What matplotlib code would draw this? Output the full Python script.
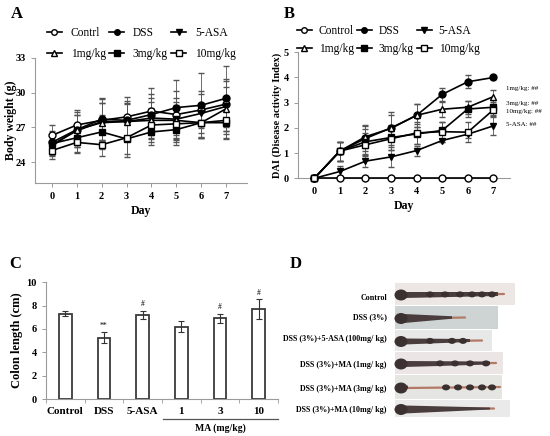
import numpy as np
import matplotlib
matplotlib.use('Agg')
import matplotlib.pyplot as plt
from matplotlib.lines import Line2D
from matplotlib.patches import Rectangle, Ellipse, Polygon

plt.rcParams['font.family'] = ['Liberation Serif', 'DejaVu Serif']

days = np.arange(8)

# === Panel A: body weight (g) ===
a_labels = ['Contrl', 'DSS', '5-ASA', '1mg/kg', '3mg/kg', '10mg/kg']
bw_control = [26.3, 27.2, 27.6, 27.9, 28.4, 28.1, 28.5, 29.0]
bw_dss = [25.7, 26.8, 27.7, 27.6, 28.1, 28.7, 28.9, 29.5]
bw_asa = [25.5, 26.7, 27.5, 27.5, 27.8, 27.7, 28.2, 28.8]
bw_1mg = [25.4, 26.8, 27.4, 27.5, 27.6, 27.6, 27.4, 28.6]
bw_3mg = [25.6, 26.1, 26.6, 26.0, 26.6, 26.8, 27.4, 27.4]
bw_10mg = [25.0, 25.7, 25.5, 26.1, 27.2, 27.3, 27.4, 27.6]
bw_err = [
    [0.9, 1.3, 1.8, 1.7, 2.0, 2.0, 1.6, 2.0],
    [1.0, 1.5, 1.8, 1.7, 1.8, 2.4, 2.8, 2.8],
    [0.9, 1.4, 1.6, 1.6, 1.7, 1.8, 1.7, 2.4],
    [0.9, 1.3, 1.7, 1.5, 1.6, 1.6, 1.3, 1.9],
    [0.8, 1.2, 1.5, 1.6, 1.1, 1.3, 1.2, 1.4],
    [0.7, 0.9, 1.0, 1.4, 1.5, 1.6, 1.3, 1.5],
]

# === Panel B: DAI ===
b_labels = ['Control', 'DSS', '5-ASA', '1mg/kg', '3mg/kg', '10mg/kg']
dai_control = [0, 0, 0, 0, 0, 0, 0, 0]
dai_dss = [0, 1.08, 1.58, 2.0, 2.5, 3.33, 3.83, 4.0]
dai_asa = [0, 0.27, 0.68, 0.85, 1.1, 1.5, 1.75, 2.08]
dai_1mg = [0, 1.08, 1.65, 1.98, 2.5, 2.74, 2.82, 3.24]
dai_3mg = [0, 1.08, 1.45, 1.62, 1.76, 1.9, 2.75, 2.82]
dai_10mg = [0, 1.08, 1.33, 1.57, 1.8, 1.85, 1.83, 2.72]
dai_err = [
    [0, 0, 0, 0, 0, 0, 0, 0],
    [0, 0.38, 0.5, 0.5, 0.45, 0.25, 0.25, 0.05],
    [0, 0.2, 0.25, 0.4, 0.2, 0.05, 0.15, 0.38],
    [0, 0.38, 0.45, 0.65, 0.45, 0.3, 0.25, 0.28],
    [0, 0.38, 0.5, 0.5, 0.4, 0.35, 0.3, 0.3],
    [0, 0.38, 0.45, 0.45, 0.45, 0.4, 0.4, 0.3],
]
b_notes = ['1mg/kg: ##', '3mg/kg: ##', '10mg/kg: ##', '5-ASA: ##']
b_note_y = [3.55, 2.98, 2.66, 2.12]

# === Panel C: colon length (cm) ===
c_groups = ['Control', 'DSS', '5-ASA', '1', '3', '10']
colon_len = [7.32, 5.25, 7.18, 6.2, 6.9, 7.68]
colon_err = [0.2, 0.45, 0.35, 0.45, 0.35, 0.85]
colon_sig = ['', '**', '#', '', '#', '#']

# === Panel D: colon photos ===
d_labels = ['Control', 'DSS (3%)', 'DSS (3%)+5-ASA (100mg/ kg)',
            'DSS (3%)+MA (1mg/ kg)', 'DSS (3%)+MA (3mg/ kg)',
            'DSS (3%)+MA (10mg/ kg)']

markers = ['o', 'o', 'v', '^', 's', 's']
faces = ['white', 'black', 'black', 'white', 'black', 'white']

W, H = 550, 436
fig = plt.figure(figsize=(5.5, 4.36), dpi=100)


def box(l, t, r, b):
    return [l / W, 1 - b / H, (r - l) / W, (b - t) / H]


def style_axes(ax):
    for s in ['top', 'right']:
        ax.spines[s].set_visible(False)
    for s in ['left', 'bottom']:
        ax.spines[s].set_color('#9a9a9a')
        ax.spines[s].set_linewidth(0.8)
    ax.tick_params(colors='#9a9a9a', labelcolor='black', length=3, width=0.7)
    for lab in ax.get_xticklabels() + ax.get_yticklabels():
        lab.set_fontweight('bold')
        lab.set_fontsize(7.5)


def line_panel(ax, series, errs):
    for i, (y, e) in enumerate(zip(series, errs)):
        ax.errorbar(days, y, yerr=e, fmt='-', color='black', lw=1.2,
                    marker=markers[i], mfc=faces[i], mec='black', ms=5,
                    mew=1.0, ecolor='#555555', elinewidth=0.6, capsize=2.5,
                    capthick=0.6, clip_on=False, zorder=3)


def legend_panel(labels, anchor, spacing, pad, colsp):
    handles = [Line2D([0], [0], color='black', lw=1.2, marker=markers[i],
                      mfc=faces[i], mec='black', ms=4, label=labels[i])
               for i in range(6)]
    order = [0, 3, 1, 4, 2, 5]
    fig.legend([handles[i] for i in order], [labels[i] for i in order],
               ncol=3, loc='upper left', bbox_to_anchor=anchor, frameon=False,
               fontsize=8.3, handlelength=1.3, handletextpad=pad,
               columnspacing=colsp, labelspacing=spacing, borderpad=0,
               borderaxespad=0)


# Panel A
axA = fig.add_axes(box(35, 57.7, 247, 183))
line_panel(axA, [bw_control, bw_dss, bw_asa, bw_1mg, bw_3mg, bw_10mg], bw_err)
axA.set_xlim(-0.68, 7.84)
axA.set_ylim(22.2, 33)
axA.set_yticks([24, 27, 30, 33])
axA.set_xticks(days)
axA.set_ylabel('Body weight (g)', fontweight='bold', fontsize=8.5)
axA.yaxis.set_label_coords(-0.085, 0.5)
axA.set_xlabel('Day', fontweight='bold', fontsize=8.5, labelpad=3)
style_axes(axA)
legend_panel(a_labels, (47 / W, 1 - 27 / H), 0.8, 0.75, 0.3)

# Panel B
axB = fig.add_axes(box(297.7, 52.3, 510, 178.3))
line_panel(axB, [dai_control, dai_dss, dai_asa, dai_1mg, dai_3mg, dai_10mg],
           dai_err)
axB.set_xlim(-0.65, 7.65)
axB.set_ylim(0, 5)
axB.set_yticks(range(6))
axB.set_xticks(days)
axB.set_ylabel('DAI (Disease activity Index)', fontweight='bold', fontsize=7.5)
axB.yaxis.set_label_coords(-0.072, 0.5)
axB.set_xlabel('Day', fontweight='bold', fontsize=8.5, labelpad=3)
style_axes(axB)
for txt, yv in zip(b_notes, b_note_y):
    axB.text(7.5, yv, txt, fontsize=5, va='center', ha='left', clip_on=False)
legend_panel(b_labels, (297 / W, 1 - 25.5 / H), 0.45, 0.6, 0.25)

# Panel C
axC = fig.add_axes(box(46, 282.3, 278, 399))
xc = np.arange(len(c_groups))
axC.bar(xc, colon_len, width=0.33, color='white', edgecolor='#3a3a3a',
        linewidth=1.3, zorder=2)
axC.errorbar(xc, colon_len, yerr=colon_err, fmt='none', ecolor='#333333',
             elinewidth=0.8, capsize=2.5, capthick=0.8, zorder=3)
for x, v, e, s in zip(xc, colon_len, colon_err, colon_sig):
    if s:
        axC.text(x, v + e + 0.25, s, ha='center', va='bottom', fontsize=5.5)
axC.set_xlim(-0.5, 5.5)
axC.set_ylim(0, 10)
axC.set_yticks(range(0, 11, 2))
axC.set_xticks(xc)
axC.set_xticklabels(c_groups)
axC.set_xticks(np.arange(-0.5, 6, 1), minor=True)
axC.set_ylabel('Colon length (cm)', fontweight='bold', fontsize=9)
axC.yaxis.set_label_coords(-0.097, 0.5)
style_axes(axC)
axC.tick_params(axis='x', which='major', length=0, pad=6)
axC.tick_params(axis='x', which='minor', length=3, color='#9a9a9a')
for lab in axC.get_xticklabels():
    lab.set_fontsize(8)

# Overlay axes in pixel units for panel letters, the MA bracket and panel D
ov = fig.add_axes([0, 0, 1, 1], facecolor='none')
ov.set_xlim(0, W)
ov.set_ylim(H, 0)
ov.axis('off')

for letter, (x, y) in zip('ABCD', [(11, 14), (284, 14), (9, 264), (290, 264)]):
    ov.text(x, y, letter, fontsize=12, fontweight='bold', ha='left',
            va='center')

ov.plot([163, 278], [419, 419], color='#555555', lw=0.9)
ov.text(220, 428, 'MA (mg/kg)', fontsize=7, fontweight='bold', ha='center',
        va='center')

# Panel D: a drawn stand-in for the colon photograph
rows_top = [283, 306, 330, 352, 375, 400]
rows_bot = [305, 329, 351, 374, 399, 417]
rows_right = [515, 498, 492, 503, 502, 510]
bg_colors = ['#ece6e5', '#cdd4d3', '#e8e8e9', '#ebe5e5', '#e5e6e2', '#eaeaea']
body_end = [498, 452, 470, 490, 408, 490]
body_th = [(6, 4), (9, 2.5), (6, 3), (6, 3), (3, 3), (8, 2)]
tail_end = [504, 465, 482, 496, 500, 494]
blob_x = [[430, 445, 460, 472, 482, 492],
          [],
          [430, 452, 463],
          [440, 455, 470, 486],
          [446, 458, 470, 482, 492],
          []]
label_y = [298, 317, 339, 365, 389, 410]

for i in range(6):
    t, b = rows_top[i], rows_bot[i]
    ov.add_patch(Rectangle((395, t), rows_right[i] - 395, b - t,
                           facecolor=bg_colors[i], edgecolor='none', zorder=1))
    yc = (t + b) / 2 + 1
    ov.plot([405, tail_end[i]], [yc, yc - 1], color='#b27a66', lw=1.6,
            solid_capstyle='round', zorder=2)
    th0, th1 = body_th[i]
    ov.add_patch(Polygon([(404, yc - th0 / 2), (body_end[i], yc - th1 / 2 - 1),
                          (body_end[i], yc + th1 / 2 - 1), (404, yc + th0 / 2)],
                         facecolor='#4a3d3d', edgecolor='none', zorder=3))
    ov.add_patch(Ellipse((401, yc), 13, 11, facecolor='#3b3131',
                         edgecolor='none', zorder=4))
    for bx in blob_x[i]:
        ov.add_patch(Ellipse((bx, yc - 0.6), 8, 6, facecolor='#3a3030',
                             edgecolor='none', zorder=4))
    ov.text(387, label_y[i], d_labels[i], fontsize=5.8, fontweight='bold',
            ha='right', va='center')

fig.savefig('out.png', dpi=100)
